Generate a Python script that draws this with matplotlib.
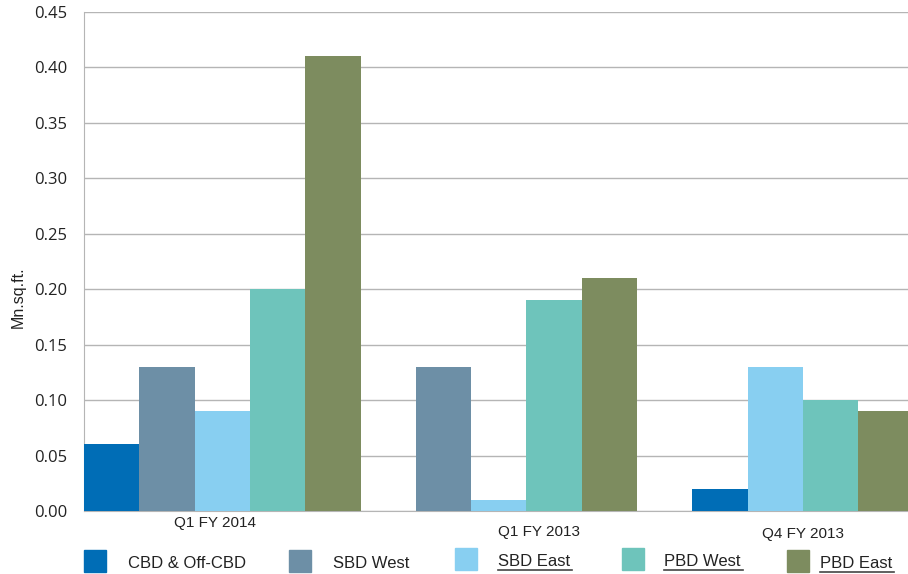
import matplotlib
matplotlib.use("Agg")
import matplotlib.pyplot as plt
from matplotlib.lines import Line2D

# data (Mn.sq.ft.)
quarters = ["Q1 FY 2014", "Q1 FY 2013", "Q4 FY 2013"]
series = ["CBD & Off-CBD", "SBD West", "SBD East", "PBD West", "PBD East"]
cbd = [0.06, 0.0, 0.02]
sbd_west = [0.13, 0.13, 0.0]
sbd_east = [0.09, 0.01, 0.13]
pbd_west = [0.20, 0.19, 0.10]
pbd_east = [0.41, 0.21, 0.09]
yticks = [0.0, 0.05, 0.10, 0.15, 0.20, 0.25, 0.30, 0.35, 0.40, 0.45]

values = [cbd, sbd_west, sbd_east, pbd_west, pbd_east]
colors = ["#006db6", "#6d8fa6", "#88cff1", "#6ec4bb", "#7d8c5f"]
narrow = ["Liberation Sans", "DejaVu Sans"]

# slot layout of the original: the third group is shifted by one slot
group_start = [0, 5, 10]
slot_order = [[0, 1, 2, 3, 4], [0, 1, 2, 3, 4], [1, 0, 2, 3, 4]]
label_x = [2.36, 8.22, 13.0]
label_px = [12, 21, 23]   # pixels below the baseline

W, H = 908, 574
fig = plt.figure(figsize=(9.08, 5.74), dpi=100)
ax = fig.add_axes([84 / W, 1 - 511 / H, 1 - 84 / W, (511 - 12) / H])

for s in range(len(series)):
    xs = [group_start[g] + slot_order[g][s] for g in range(len(quarters))]
    ax.bar(xs, values[s], width=1.0, align="edge", color=colors[s], zorder=3)

ax.set_xlim(0, 14.9)
ax.set_ylim(0, 0.45)
ax.set_yticks(yticks)
ax.set_yticklabels(["%.2f" % v for v in yticks], fontsize=12, family="Open Sans", color="#222222")
ax.tick_params(axis="y", length=0, pad=12)
ax.set_xticks([])
ax.grid(axis="y", color="#b5b5b5", linewidth=1, zorder=0)
for side in ["top", "right"]:
    ax.spines[side].set_visible(False)
ax.spines["left"].set_color("#b5b5b5")
ax.spines["bottom"].set_color("#b5b5b5")
ax.spines["bottom"].set_zorder(2)

for i, q in enumerate(quarters):
    ax.text(label_x[i], -label_px[i] / (499 / 0.45), q, ha="center", va="center", fontsize=11,
            family=narrow, color="#222222", clip_on=False)

fig.text(18 / W, 1 - 297 / H, "Mn.sq.ft.", rotation=90, ha="center", va="center",
         fontsize=11.5, family=narrow, color="#222222")

# legend row along the bottom
box_x = [84, 289, 455, 622, 787]
box_y = [561, 561, 559, 559, 561]
text_x = [128, 333, 498, 664, 820]
underline = [False, False, True, True, True]
for i, name in enumerate(series):
    fig.patches.append(plt.Rectangle((box_x[i] / W, 1 - (box_y[i] + 11) / H), 22 / W, 22 / H,
                                     color=colors[i], transform=fig.transFigure, figure=fig))
    t = fig.text(text_x[i] / W, 1 - (box_y[i] + 2) / H, name, ha="left", va="center", fontsize=12,
                 family=narrow, color="#222222")
    if underline[i]:
        fig.canvas.draw()
        bb = t.get_window_extent()
        yy = (bb.y0 - 1) / H
        fig.add_artist(Line2D([bb.x0 / W, (bb.x1 + 2) / W], [yy, yy], color="#444444",
                              linewidth=1.2, transform=fig.transFigure))

fig.savefig("out.png", dpi=100)
